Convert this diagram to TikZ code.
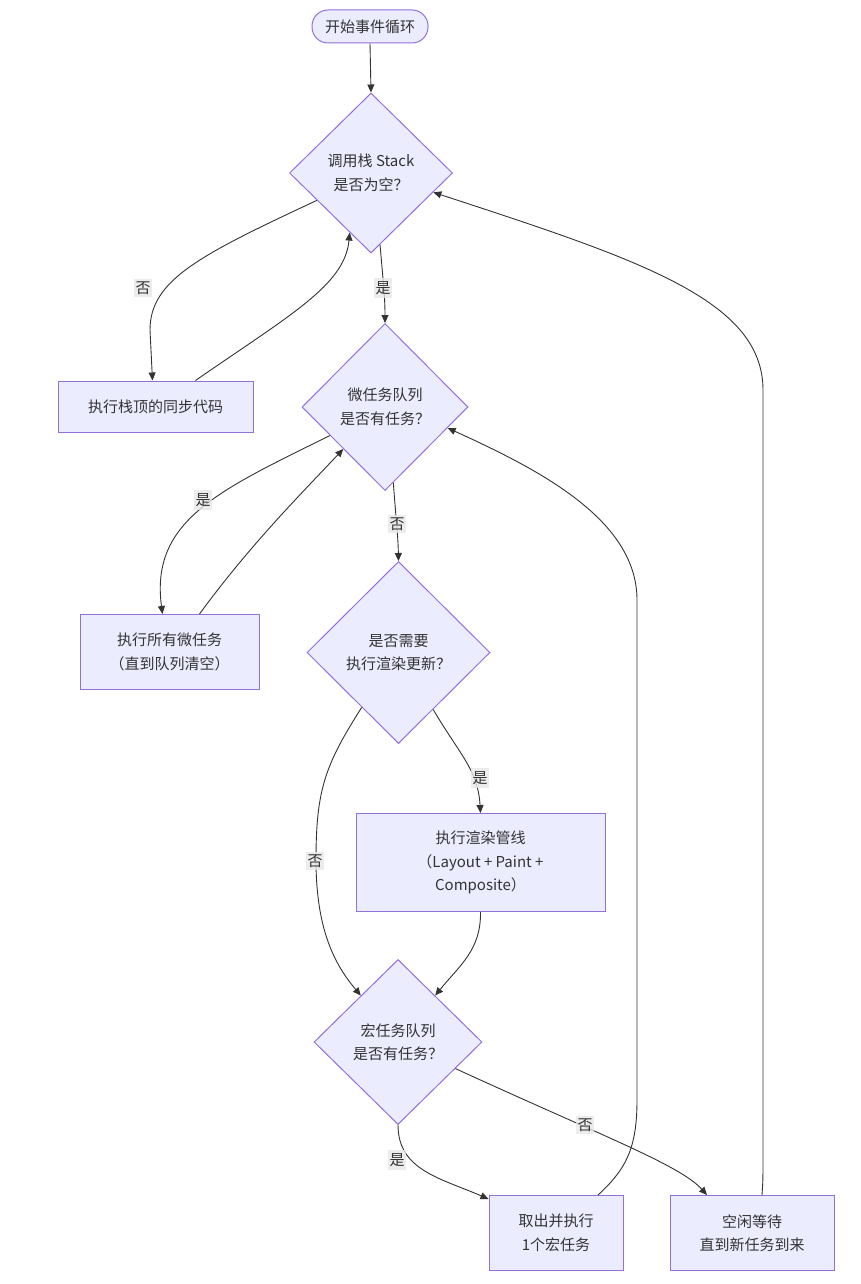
\documentclass[tikz,border=0pt]{standalone}
\usepackage{fontspec}
\setmainfont{Noto Sans CJK SC}
\usetikzlibrary{shapes.geometric,arrows.meta,calc}
\definecolor{nodefill}{HTML}{ECECFF}
\definecolor{nodeline}{HTML}{9370DB}
\definecolor{edgeline}{HTML}{333333}
\definecolor{labelbg}{HTML}{E8E8E8}
\definecolor{textc}{HTML}{333333}
\begin{document}
\begin{tikzpicture}[x=1pt,y=-1pt,
  every node/.style={text=textc, font=\fontsize{15}{23.5}\selectfont},
  proc/.style={rectangle, draw=nodeline, fill=nodefill, line width=1pt, align=center, inner sep=0pt},
  dec/.style={diamond, draw=nodeline, fill=nodefill, line width=1pt, align=center, inner sep=0pt},
  term/.style={rectangle, rounded corners=16pt, draw=nodeline, fill=nodefill, line width=1pt, align=center, inner sep=0pt},
  conn/.style={draw=edgeline, line width=0.9pt, -{Triangle[length=8pt,width=7pt]}},
  lbl/.style={fill=labelbg, fill opacity=0.8, text opacity=1, inner xsep=1.5pt, inner ysep=3pt}]
\useasboundingbox[fill=white] (0,0) rectangle (860,1284);

% nodes
\node[term, minimum width=116pt, minimum height=33pt] (start) at (370,26.5) {开始事件循环};
\node[dec, minimum width=163pt, minimum height=160pt] (d1) at (371,173) {调用栈 Stack\\是否为空？};
\node[proc, minimum width=195pt, minimum height=51pt] (b1) at (155.5,406.5) {执行栈顶的同步代码};
\node[dec, minimum width=166pt, minimum height=167pt] (d2) at (385,407) {微任务队列\\是否有任务？};
\node[proc, minimum width=179pt, minimum height=75pt] (b2) at (169.5,652) {执行所有微任务\\（直到队列清空）};
\node[dec, minimum width=183pt, minimum height=182pt] (d3) at (398.5,652.5) {是否需要\\执行渲染更新？};
\node[proc, minimum width=249pt, minimum height=98pt] (b3) at (480.5,862.5) {执行渲染管线\\（Layout + Paint +\\Composite）};
\node[dec, minimum width=168pt, minimum height=165pt] (d4) at (398,1042) {宏任务队列\\是否有任务？};
\node[proc, minimum width=134pt, minimum height=75pt] (b4) at (556,1233) {取出并执行\\1个宏任务};
\node[proc, minimum width=164pt, minimum height=75pt] (b5) at (752,1233) {空闲等待\\直到新任务到来};

% connectors
\draw[conn] (start.south) -- (d1.north);
\draw[conn] ($(d1.west)!0.34!(d1.south)$) .. controls (200,255) and (150,280) .. (150,330) -- ([xshift=-3pt]b1.north);
\draw[conn] ([xshift=40pt]b1.north) .. controls (290,315) and (345,285) .. ($(d1.west)!0.74!(d1.south)$);
\draw[conn] ($(d1.south)!0.11!(d1.east)$) .. controls (384,290) and (385,300) .. (d2.north);
\draw[conn] ($(d2.west)!0.34!(d2.south)$) .. controls (220,490) and (150,520) .. ([xshift=-7pt]b2.north);
\draw[conn] ([xshift=30pt]b2.north) .. controls (250,545) and (300,495) .. ($(d2.west)!0.5!(d2.south)$);
\draw[conn] ($(d2.south)!0.1!(d2.east)$) .. controls (396,520) and (398,535) .. (d3.north);
\draw[conn] ($(d3.south)!0.377!(d3.east)$) .. controls (460,755) and (478,770) .. (b3.north);
\draw[conn] ($(d3.west)!0.6!(d3.south)$) .. controls (325,765) and (316,790) .. (316,860) .. controls (316,930) and (335,965) .. ($(d4.north)!0.44!(d4.west)$);
\draw[conn] (b3.south) .. controls (481,950) and (460,965) .. ($(d4.north)!0.44!(d4.east)$);
\draw[conn] (d4.south) .. controls (398,1170) and (440,1178) .. ([yshift=-4pt]b4.north west);
\draw[conn] ($(d4.east)!0.32!(d4.south)$) .. controls (600,1135) and (680,1165) .. ([xshift=-45pt]b5.north);
\draw[conn] ([xshift=42pt]b4.north) .. controls (625,1170) and (637,1150) .. (637,1100) -- (637,600) .. controls (637,520) and (540,470) .. ($(d2.east)!0.25!(d2.south)$);
\draw[conn] ([xshift=10pt]b5.north) .. controls (763,1180) .. (763,1150) -- (763,390) .. controls (763,300) and (640,260) .. ($(d1.east)!0.24!(d1.south)$);

% labels
\node[lbl] (l1) at (143,288) {否};
\node[lbl] (l2) at (383,288) {是};
\node[lbl] (l3) at (203,500) {是};
\node[lbl] (l4) at (397,524) {否};
\node[lbl] (l5) at (480,778) {是};
\node[lbl] (l6) at (315,861) {否};
\node[lbl] (l7) at (397,1160) {是};
\node[lbl] (l8) at (585,1125) {否};
\end{tikzpicture}
\end{document}
